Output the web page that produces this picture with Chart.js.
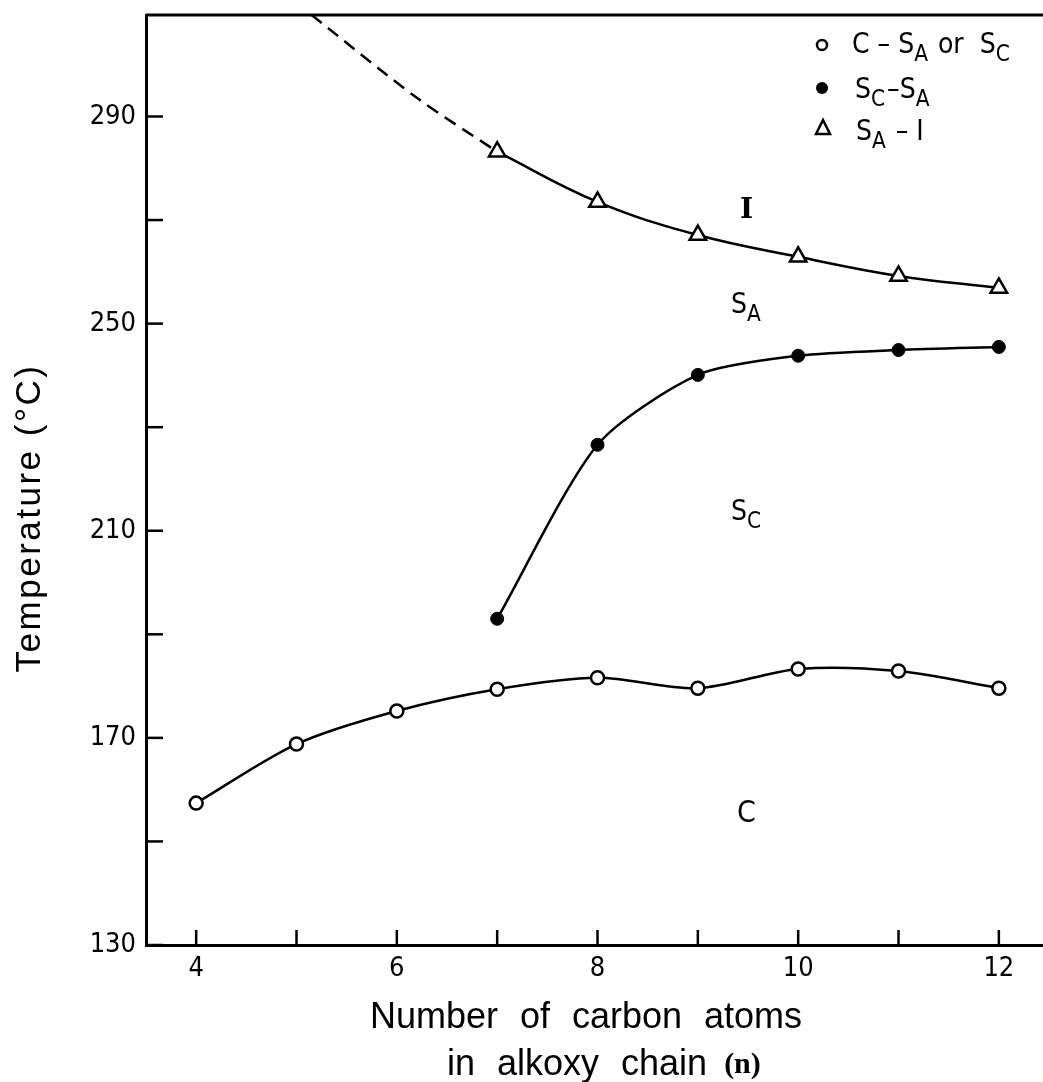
<!DOCTYPE html>
<html lang="en">
<head>
    <meta charset="UTF-8">
    <title>Transition temperatures vs. alkoxy chain length</title>
    <script src="https://cdn.jsdelivr.net/npm/chart.js"></script>
    <style>
        html, body {
            margin: 0;
            padding: 0;
            background: #fff;
            overflow: hidden;
        }
        #wrap {
            width: 1043px;
            height: 1082px;
        }
        canvas {
            display: block;
        }
    </style>
</head>
<body>
    <div id="wrap"><canvas id="phaseChart"></canvas></div>

    <script>
        // data
        const carbonAtoms = [4, 5, 6, 7, 8, 9, 10, 11, 12];
        const meltingTemps = [157.4, 168.8, 175.2, 179.4, 181.6, 179.6, 183.3, 182.9, 179.6];   // C-SA or SC

        const scCarbon = [7, 8, 9, 10, 11, 12];
        const scSaTemps = [193.0, 226.6, 240.1, 243.8, 244.9, 245.5];    // SC-SA

        const saCarbon = [7, 8, 9, 10, 11, 12];
        const saITemps = [283.2, 273.5, 267.1, 262.9, 259.2, 256.9];     // SA-I

        // dashed extrapolation of the SA-I curve
        const extrapCarbon = [5.15, 6.2, 7];
        const extrapTemps = [309.6, 293.6, 283.2];

        const xTicks = [4, 5, 6, 7, 8, 9, 10, 11, 12];
        const xTickLabels = ["4", "", "6", "", "8", "", "10", "", "12"];
        const yTicks = [130, 150, 170, 190, 210, 230, 250, 270, 290];
        const yTickLabels = ["130", "", "170", "", "210", "", "250", "", "290"];

        // legend rows: [text, subscript?]
        const legendRows = [
            [["C \u2013 S", false], ["A", true], [" or  S", false], ["C", true]],
            [["S", false], ["C", true], ["\u2013S", false], ["A", true]],
            [["S", false], ["A", true], [" \u2013 I", false]]
        ];
        const regionLabels = [
            [["S", false], ["A", true]],
            [["S", false], ["C", true]],
            [["C", false]]
        ];

        const toPoints = (xs, ys) => xs.map((x, i) => ({x: x, y: ys[i]}));

        const condensed = '"DejaVu Sans Condensed", "Liberation Sans Narrow", "DejaVu Sans", sans-serif';
        const sans = '"Liberation Sans", Arial, sans-serif';

        // draw a label with subscripts
        function drawRich(ctx, x, y, parts, size) {
            let cx = x;
            parts.forEach(([t, sub]) => {
                ctx.font = (sub ? size * 0.8 : size) + "px " + condensed;
                ctx.fillText(t, cx, sub ? y + size * 0.3 : y);
                cx += ctx.measureText(t).width + (sub ? 2 : 0);
            });
        }

        const decorations = {
            id: "decorations",
            afterDatasetsDraw(chart) {
                const ctx = chart.ctx;
                const area = chart.chartArea;
                const xs = chart.scales.x;
                const ys = chart.scales.y;
                ctx.save();
                ctx.strokeStyle = "#000";
                ctx.fillStyle = "#000";

                // top frame line
                ctx.lineWidth = 3;
                ctx.beginPath();
                ctx.moveTo(area.left, area.top);
                ctx.lineTo(area.right, area.top);
                ctx.stroke();

                // inward tick marks
                ctx.lineWidth = 2.5;
                ys.ticks.forEach(t => {
                    const py = ys.getPixelForValue(t.value);
                    ctx.beginPath();
                    ctx.moveTo(area.left, py);
                    ctx.lineTo(area.left + 17, py);
                    ctx.stroke();
                });
                xs.ticks.forEach(t => {
                    const px = xs.getPixelForValue(t.value);
                    ctx.beginPath();
                    ctx.moveTo(px, area.bottom);
                    ctx.lineTo(px, area.bottom - 15);
                    ctx.stroke();
                });

                // legend
                ctx.textAlign = "left";
                ctx.textBaseline = "alphabetic";
                ctx.lineWidth = 2.5;
                ctx.beginPath();
                ctx.arc(822, 45, 5, 0, Math.PI * 2);
                ctx.stroke();
                ctx.beginPath();
                ctx.arc(822, 88, 6, 0, Math.PI * 2);
                ctx.fill();
                ctx.beginPath();
                ctx.moveTo(823, 120);
                ctx.lineTo(830, 134);
                ctx.lineTo(816, 134);
                ctx.closePath();
                ctx.stroke();
                drawRich(ctx, 852, 53, legendRows[0], 28);
                drawRich(ctx, 855, 98, legendRows[1], 28);
                drawRich(ctx, 856, 140, legendRows[2], 28);

                // phase labels
                ctx.font = "bold 28px \"DejaVu Serif\", serif";
                ctx.fillText("I", 740, 218);
                drawRich(ctx, 731, 313, regionLabels[0], 28);
                drawRich(ctx, 731, 520, regionLabels[1], 28);
                drawRich(ctx, 737, 822, regionLabels[2], 30);

                // axis titles
                ctx.font = "35px " + sans;
                if ("letterSpacing" in ctx) ctx.letterSpacing = "2.5px";
                ctx.save();
                ctx.translate(30, 518);
                ctx.rotate(-Math.PI / 2);
                ctx.textAlign = "center";
                ctx.textBaseline = "middle";
                ctx.fillText("Temperature (\u00B0C)", 0, 0);
                ctx.restore();
                if ("letterSpacing" in ctx) ctx.letterSpacing = "0px";

                ctx.font = "36px " + sans;
                if ("wordSpacing" in ctx) ctx.wordSpacing = "12px";
                ctx.textAlign = "center";
                ctx.fillText("Number of carbon atoms", 586, 1028);
                ctx.textAlign = "left";
                ctx.fillText("in alkoxy chain ", 447, 1075);
                const w = ctx.measureText("in alkoxy chain ").width;
                if ("wordSpacing" in ctx) ctx.wordSpacing = "0px";
                ctx.font = "bold 30px \"Liberation Serif\", \"DejaVu Serif\", serif";
                ctx.fillText("(n)", 442 + w, 1073);
                ctx.restore();
            }
        };

        const ctx = document.getElementById("phaseChart").getContext("2d");
        const chart = new Chart(ctx, {
            type: "scatter",
            data: {
                datasets: [
                    {
                        label: "C-SA or SC",
                        data: toPoints(carbonAtoms, meltingTemps),
                        showLine: true,
                        tension: 0.3,
                        borderColor: "#000",
                        borderWidth: 2.5,
                        pointStyle: "circle",
                        pointRadius: 6.5,
                        pointBackgroundColor: "#fff",
                        pointBorderColor: "#000",
                        pointBorderWidth: 2.5
                    },
                    {
                        label: "SC-SA",
                        data: toPoints(scCarbon, scSaTemps),
                        showLine: true,
                        tension: 0.25,
                        borderColor: "#000",
                        borderWidth: 2.5,
                        pointStyle: "circle",
                        pointRadius: 6.5,
                        pointBackgroundColor: "#000",
                        pointBorderColor: "#000",
                        pointBorderWidth: 1
                    },
                    {
                        label: "SA-I",
                        data: toPoints(saCarbon, saITemps),
                        showLine: true,
                        tension: 0.4,
                        borderColor: "#000",
                        borderWidth: 2.5,
                        pointStyle: "triangle",
                        pointRadius: 9.5,
                        pointBackgroundColor: "#fff",
                        pointBorderColor: "#000",
                        pointBorderWidth: 2.5
                    },
                    {
                        label: "extrapolation",
                        data: toPoints(extrapCarbon, extrapTemps),
                        showLine: true,
                        tension: 0.3,
                        borderColor: "#000",
                        borderWidth: 2.5,
                        borderDash: [13, 8],
                        pointRadius: 0
                    }
                ]
            },
            options: {
                responsive: true,
                maintainAspectRatio: false,
                animation: false,
                events: [],
                layout: {
                    autoPadding: false,
                    padding: {top: 15, right: 0, bottom: 0, left: 0}
                },
                plugins: {
                    legend: {display: false},
                    tooltip: {enabled: false}
                },
                scales: {
                    x: {
                        type: "linear",
                        min: 3.5,
                        max: 12.44,
                        grid: {display: false, drawTicks: false},
                        border: {display: true, color: "#000", width: 3},
                        afterBuildTicks: scale => {
                            scale.ticks = xTicks.map(v => ({value: v}));
                        },
                        afterFit: scale => {
                            scale.height = 137;
                            scale.paddingLeft = 0;
                            scale.paddingRight = 0;
                        },
                        ticks: {
                            color: "#000",
                            padding: 8,
                            font: {family: condensed, size: 27},
                            callback: (v) => xTickLabels[xTicks.indexOf(v)] ?? ""
                        }
                    },
                    y: {
                        type: "linear",
                        min: 130,
                        max: 309.6,
                        grid: {display: false, drawTicks: false},
                        border: {display: true, color: "#000", width: 3},
                        afterBuildTicks: scale => {
                            scale.ticks = yTicks.map(v => ({value: v}));
                        },
                        afterFit: scale => {
                            scale.width = 146;
                            scale.paddingTop = 0;
                            scale.paddingBottom = 0;
                        },
                        ticks: {
                            color: "#000",
                            padding: 10,
                            font: {family: condensed, size: 27},
                            callback: (v) => yTickLabels[yTicks.indexOf(v)] ?? ""
                        }
                    }
                }
            },
            plugins: [decorations]
        });
    </script>
</body>
</html>
